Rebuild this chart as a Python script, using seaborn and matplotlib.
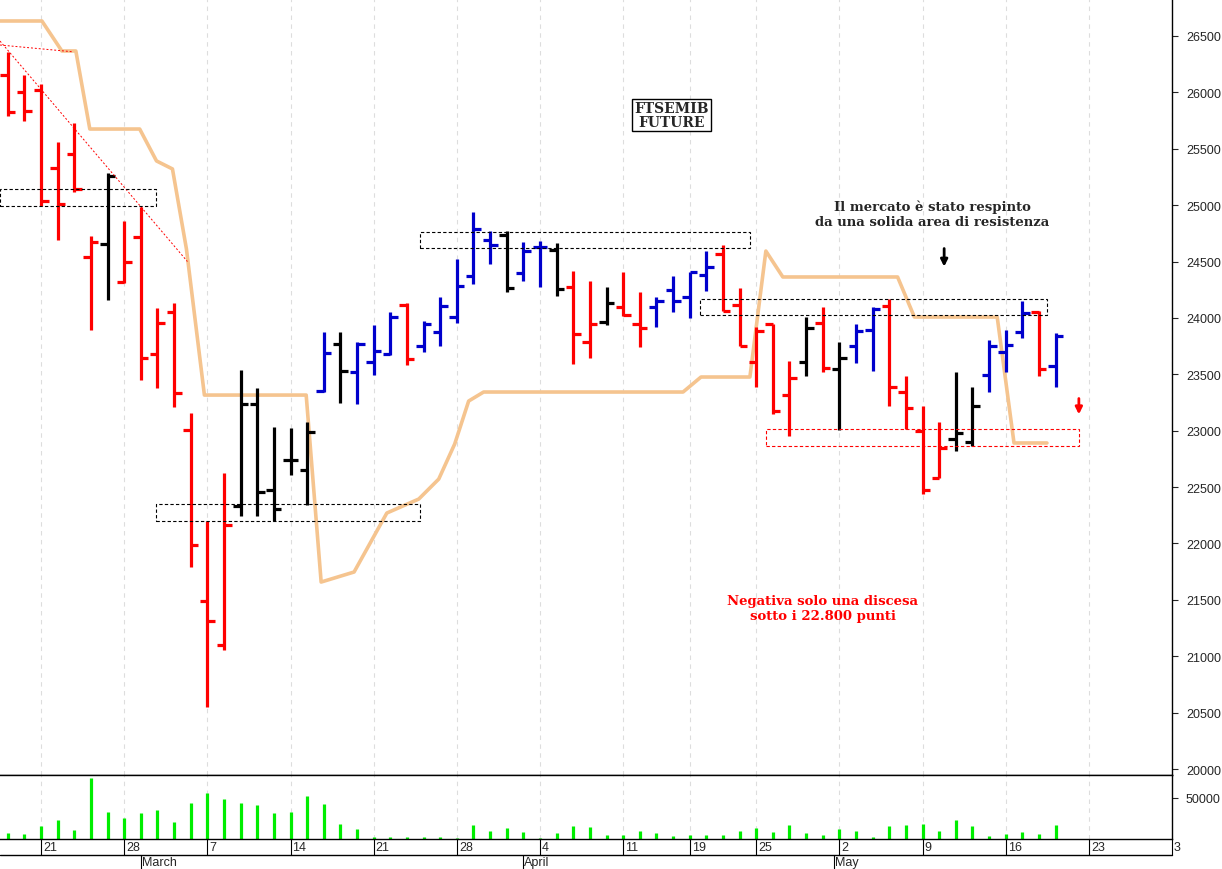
import matplotlib
matplotlib.use('Agg')
import matplotlib.pyplot as plt
from matplotlib.lines import Line2D
from matplotlib.patches import Rectangle
import matplotlib.transforms as mtransforms
import numpy as np
import seaborn as sns

# ------------- data (one bar per trading day, 17 Feb - 19 May) -------------
opens = [26154, 26003, 26021, 25330, 25454, 24540, 24656, 24318, 24718, 23680,
         24052, 23006, 21490, 21099, 22332, 23237, 22474, 22740, 22651, 23352,
         23769, 23520, 23609, 23680, 24114, 23754, 23878, 24011, 24369, 24691,
         24735, 24398, 24626, 24605, 24272, 23784, 23966, 24099, 23946, 24094,
         24250, 24183, 24380, 24567, 24114, 23612, 23946, 23316, 23612, 23952,
         23547, 23748, 23896, 24103, 23340, 23000, 22582, 22926, 22897, 23494,
         23700, 23878, 24055, 23576]
highs = [26358, 26154, 26074, 25560, 25728, 24726, 25285, 24860, 24984, 24088,
         24132, 23157, 22199, 22625, 23538, 23378, 23033, 23024, 23077, 23875,
         23875, 23786, 23937, 24052, 24132, 23975, 24183, 24522, 24942, 24773,
         24773, 24676, 24685, 24664, 24419, 24330, 24272, 24405, 24233, 24183,
         24375, 24405, 24596, 24647, 24263, 23917, 23946, 23621, 24005, 24094,
         23789, 23946, 24094, 24168, 23488, 23222, 23079, 23518, 23385, 23807,
         23896, 24153, 24064, 23866]
lows = [25790, 25746, 24992, 24690, 25117, 23893, 24159, 24309, 23449, 23378,
        23210, 21791, 20550, 21055, 22243, 22243, 22199, 22607, 22341, 23343,
        23245, 23237, 23494, 23671, 23582, 23695, 23754, 23955, 24301, 24478,
        24233, 24330, 24272, 24197, 23591, 23642, 23937, 24020, 23739, 23917,
        24055, 23997, 24241, 24064, 23748, 23385, 23148, 22956, 23488, 23523,
        23009, 23600, 23532, 23222, 23015, 22438, 22582, 22820, 22861, 23340,
        23518, 23819, 23488, 23385]
closes = [25826, 25835, 25037, 25010, 25143, 24673, 25258, 24496, 23645, 23955,
          23334, 21986, 21312, 22163, 23237, 22456, 22305, 22740, 22988, 23689,
          23529, 23769, 23707, 24008, 23636, 23946, 24108, 24280, 24788, 24647,
          24268, 24596, 24626, 24256, 23857, 23946, 24132, 24026, 23908, 24153,
          24153, 24405, 24449, 24064, 23748, 23887, 23177, 23464, 23908, 23553,
          23642, 23887, 24079, 23385, 23198, 22477, 22848, 22979, 23216, 23748,
          23760, 24044, 23547, 23837]
bar_colors = (['r'] * 6 + ['k'] + ['r'] * 7 + ['k'] * 5 + ['b'] + ['k'] + ['b'] * 3 + ['r']
              + ['b'] * 5 + ['k'] + ['b'] * 2 + ['k'] + ['r'] * 2 + ['k'] + ['r'] * 2
              + ['b'] * 4 + ['r'] * 5 + ['k'] + ['r'] + ['k'] + ['b'] * 2 + ['r'] * 4
              + ['k'] * 2 + ['b'] * 3 + ['r'] + ['b'])
volumes = [7400, 5700, 15600, 23400, 10700, 73800, 32800, 25400, 32000, 35300,
           20500, 44300, 56600, 48400, 43500, 41800, 32000, 32800, 52500, 42600,
           18500, 12300, 2900, 2000, 2000, 2900, 2000, 1200, 17200, 9800,
           13100, 8200, 1200, 7000, 15600, 14400, 4900, 4900, 10300, 7400,
           3300, 5300, 4900, 4900, 10300, 13500, 8200, 17200, 7400, 4900,
           12300, 9400, 2000, 15600, 17200, 18500, 10300, 23400, 15600, 4100,
           5700, 8200, 5700, 17200]

# orange overlay line
line_x = [-0.47, 2.05, 3.25, 4.09, 4.93, 7.93, 8.94, 9.90, 10.74, 11.82, 17.94,
          18.84, 20.82, 22.79, 24.71, 25.91, 26.87, 27.71, 28.61, 40.6, 41.68,
          44.62, 45.58, 46.6, 53.5, 54.51, 59.49, 60.5, 62.48]
line_y = [26633, 26633, 26367, 26367, 25675, 25675, 25392, 25321, 24611, 23316, 23316,
          21658, 21747, 22270, 22394, 22571, 22882, 23263, 23343, 23343, 23476,
          23476, 24593, 24363, 24363, 24008, 24008, 22891, 22891]

# dashed zones: (x0, x1, low, high, colour)
zones = [(-0.47, 8.94, 24992, 25143, 'black'),
         (8.94, 24.77, 22199, 22350, 'black'),
         (24.8, 44.6, 24620, 24762, 'black'),
         (41.6, 62.5, 24026, 24168, 'black'),
         (45.6, 64.4, 22864, 23015, 'red')]

tick_pos = [2, 7, 12, 17, 22, 27, 32, 37, 41, 45, 50, 55, 60, 65, 70]
tick_lab = ['21', '28', '7', '14', '21', '28', '4', '11', '19', '25', '2', '9', '16', '23', '3']
month_pos = [8, 31, 49.7]
month_lab = ['March', 'April', 'May']

# ------------- figure --------------------------------
sns.set_style('white')
plt.rcParams['font.family'] = ['Liberation Sans', 'DejaVu Sans']

fig = plt.figure(figsize=(12.22, 8.70), dpi=100)
ax = fig.add_axes([0, 1 - 776 / 870, 1172 / 1222, 776 / 870])
axv = fig.add_axes([0, 1 - 840 / 870, 1172 / 1222, 64 / 870], sharex=ax)

xs = np.arange(len(opens))
for i in xs:
    c = {'r': '#ff0000', 'k': 'black', 'b': '#0000cc'}[bar_colors[i]]
    ax.vlines(i, lows[i], highs[i], color=c, lw=2.3)
    ax.hlines(opens[i], i - 0.45, i, color=c, lw=2.3)
    ax.hlines(closes[i], i, i + 0.45, color=c, lw=2.3)

sns.lineplot(x=line_x, y=line_y, ax=ax, color='#f5c48f', lw=2.6, sort=False, zorder=1)

for x0, x1, lo, hi, c in zones:
    ax.add_patch(Rectangle((x0, lo), x1 - x0, hi - lo, fill=False, ls=(0, (3, 2)),
                           lw=0.8, ec=c, zorder=3))

# red dotted trend lines
ax.plot([-0.47, 3.9], [26420, 26360], color='red', ls=(0, (2, 2)), lw=0.7)
ax.plot([-0.47, 10.8], [26455, 24500], color='red', ls=(0, (2, 2)), lw=0.7)

ax.set_xlim(-0.47, 69.8)
ax.set_ylim(19947, 26828)
ax.set_yticks(np.arange(20000, 26501, 500))
ax.yaxis.tick_right()
ax.tick_params(axis='y', labelsize=9, length=4, direction='out', right=True, pad=6)
ax.tick_params(axis='x', bottom=False, labelbottom=False)
for s in ['top', 'left']:
    ax.spines[s].set_visible(False)
for s in ['right', 'bottom']:
    ax.spines[s].set_color('black')
    ax.spines[s].set_linewidth(1)
for p in tick_pos:
    ax.axvline(p, color='#dddddd', ls=(0, (4, 4)), lw=0.8, zorder=0)

# annotations
ax.text(39.9, 25800, 'FTSEMIB\nFUTURE', ha='center', va='center', fontsize=10,
        fontweight='bold', family='DejaVu Serif', linespacing=1.0,
        bbox=dict(boxstyle='square,pad=0.15', fc='white', ec='black', lw=1))
ax.text(55.6, 24920, 'Il mercato è stato respinto\nda una solida area di resistenza',
        ha='center', va='center', fontsize=9.5, fontweight='bold', family='DejaVu Serif')
ax.annotate('', xy=(56.3, 24430), xytext=(56.3, 24640),
            arrowprops=dict(arrowstyle='-|>', color='black', lw=2, mutation_scale=10))
ax.annotate('', xy=(64.4, 23120), xytext=(64.4, 23310),
            arrowprops=dict(arrowstyle='-|>', color='red', lw=2, mutation_scale=10))
ax.text(49.0, 21430, 'Negativa solo una discesa\nsotto i 22.800 punti', ha='center',
        va='center', fontsize=9.5, fontweight='bold', color='red', family='DejaVu Serif')

# volume panel
axv.vlines(xs, 0, volumes, color='#00ee00', lw=2.3)
axv.set_ylim(0, 78000)
axv.set_yticks([50000])
axv.yaxis.tick_right()
axv.tick_params(axis='y', labelsize=9, length=4, pad=6)
axv.spines['left'].set_visible(False)
for s in ['top', 'right', 'bottom']:
    axv.spines[s].set_color('black')
    axv.spines[s].set_linewidth(1)
for p in tick_pos:
    axv.axvline(p, color='#dddddd', ls=(0, (4, 4)), lw=0.8, zorder=0)
axv.set_xticks(tick_pos)
axv.set_xticklabels([])
axv.tick_params(axis='x', bottom=True, length=11.5, width=0.8, direction='out', colors='black')
trans = mtransforms.blended_transform_factory(axv.transData, axv.transAxes)
for p, lab in zip(tick_pos, tick_lab):
    axv.text(p + 0.12, -0.125, lab, transform=trans, ha='left', va='center', fontsize=9)
for p, lab in zip(month_pos, month_lab):
    axv.text(p + 0.05, -0.36, lab, transform=trans, ha='left', va='center', fontsize=9)
    axv.add_line(Line2D([p, p], [-0.25, -0.47], transform=trans, color='black', lw=0.8,
                        clip_on=False))
fig.add_artist(Line2D([0, 1172 / 1222], [1 - 856 / 870] * 2, color='black', lw=1))

fig.savefig('out.png', dpi=100, facecolor='white')
